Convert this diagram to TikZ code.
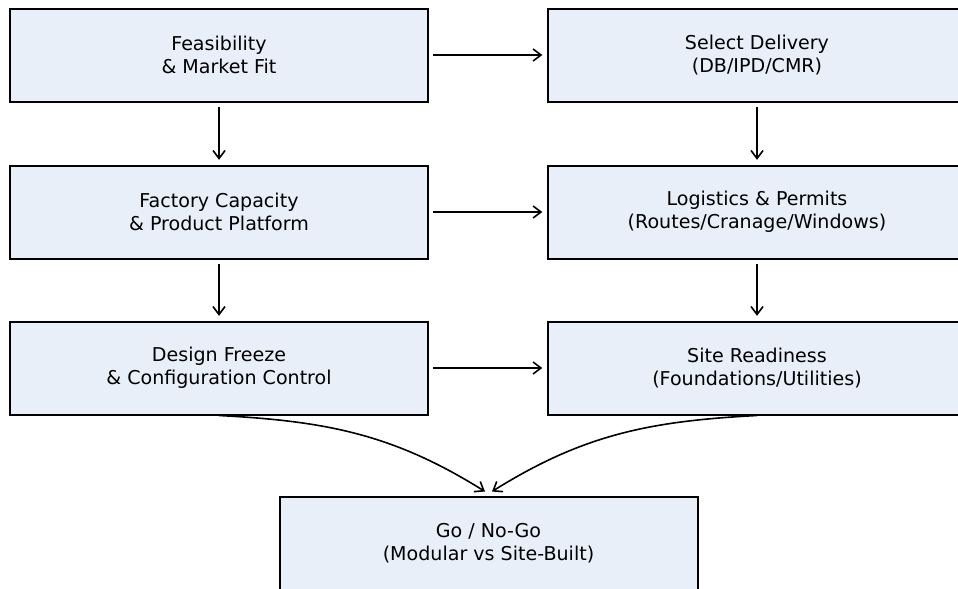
\documentclass[tikz,border=0pt]{standalone}
\usepackage{fontspec}
\setmainfont{DejaVu Sans}
\usetikzlibrary{arrows.meta,calc}

\definecolor{boxfill}{RGB}{232,239,248}

\begin{document}
\begin{tikzpicture}[x=0.75pt, y=-0.75pt, thick,
		>={Straight Barb[length=6pt, width=9pt]},
		stage/.style={draw=black, line width=1.5pt, fill=boxfill,
			minimum width=313.5pt, minimum height=69.75pt, align=center,
			font=\fontsize{14.3}{17.3}\selectfont},
		link/.style={->, line width=1.2pt, shorten >=3.5pt, shorten <=3pt}]
		% Rahmen und Beschnitt
		\useasboundingbox (0,0) rectangle (958,589);
		\clip (0,0) rectangle (958,589);
		
		% Linke Spalte
		\node[stage] (feas) at (219,55) {Feasibility\\\& Market Fit};
		\node[stage] (factory) at (219,212) {Factory Capacity\\\& Product Platform};
		\node[stage] (design) at (219,368) {Design Freeze\\\& Configuration Control};
		
		% Rechte Spalte
		\node[stage] (delivery) at (757,55) {Select Delivery\\(DB/IPD/CMR)};
		\node[stage] (logistics) at (757,212) {Logistics \& Permits\\(Routes/Cranage/Windows)};
		\node[stage] (site) at (757,368) {Site Readiness\\(Foundations/Utilities)};
		
		% Entscheidung
		\node[stage] (gonogo) at (488.5,543) {Go / No-Go\\(Modular vs Site-Built)};
		
		% Pfeile zwischen den Stufen
		\draw[link] (feas) -- (delivery);
		\draw[link] (factory) -- (logistics);
		\draw[link] (design) -- (site);
		\draw[link] (feas) -- (factory);
		\draw[link] (factory) -- (design);
		\draw[link] (delivery) -- (logistics);
		\draw[link] (logistics) -- (site);
		
		% Gebogene Pfeile zur Entscheidung
		\draw[->, line width=1.2pt] (design.south) to[out=-3, in=148] ($(gonogo.north)+(-3.5,-4)$);
		\draw[->, line width=1.2pt] (site.south) to[out=183, in=32] ($(gonogo.north)+(3.5,-4)$);
\end{tikzpicture}
\end{document}
